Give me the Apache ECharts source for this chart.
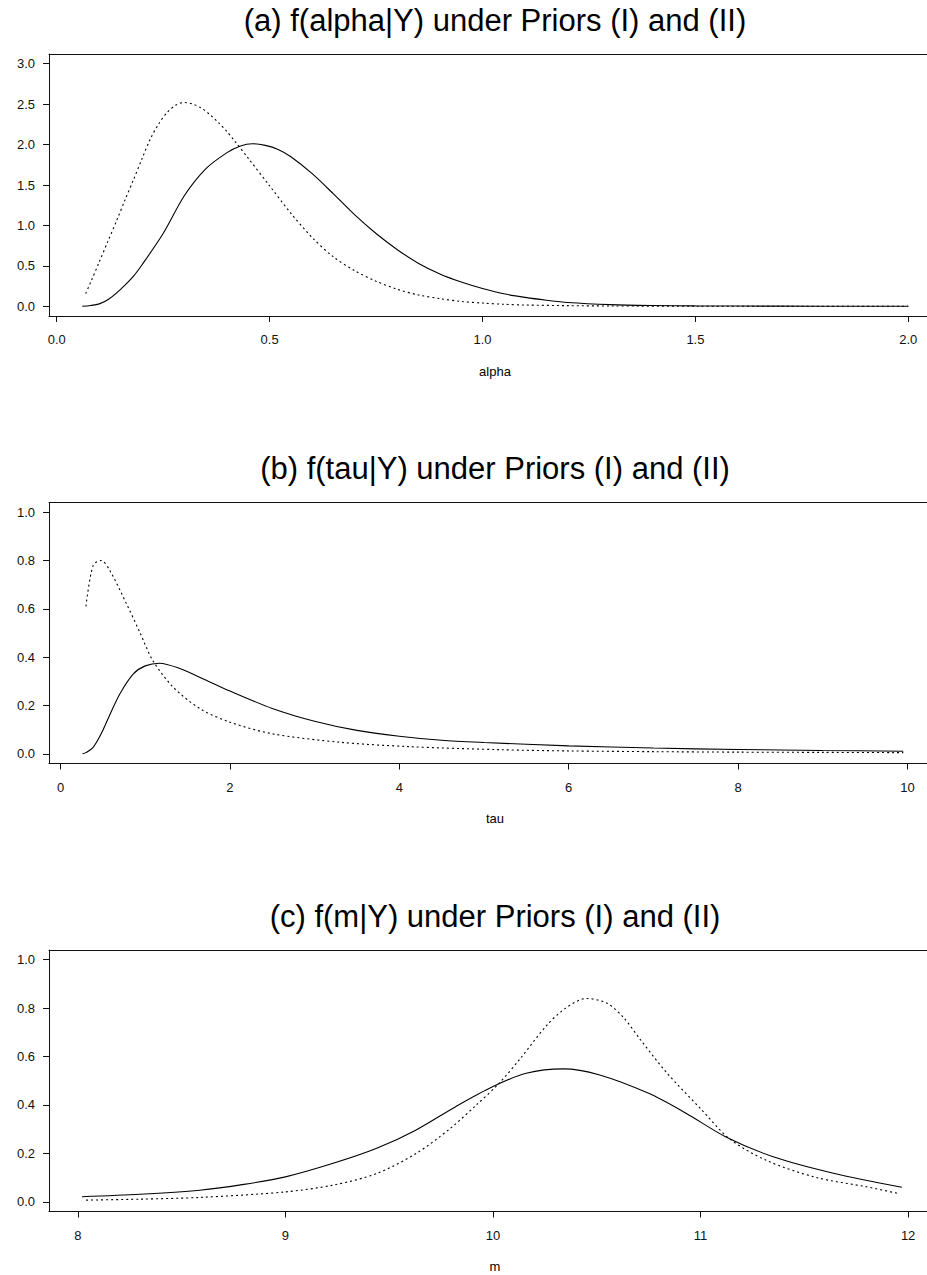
<!DOCTYPE html>
<html>
<head>
<meta charset="utf-8">
<script src="https://cdn.jsdelivr.net/npm/echarts@6/dist/echarts.min.js"></script>
<style>
html,body{margin:0;padding:0;background:#fff;}
#chart{width:927px;height:1275px;}
</style>
</head>
<body>
<div id="chart"></div>
<script>
// ---- Data ----
const titles = ["(a) f(alpha|Y) under Priors (I) and (II)", "(b) f(tau|Y) under Priors (I) and (II)", "(c) f(m|Y) under Priors (I) and (II)"];
const xNames = ["alpha", "tau", "m"];

const alphaTicks = [0.0, 0.5, 1.0, 1.5, 2.0];
const alphaYTicks = [0.0, 0.5, 1.0, 1.5, 2.0, 2.5, 3.0];
const alphaX1 = [0.06,0.08,0.10,0.12,0.15,0.18,0.20,0.25,0.30,0.35,0.40,0.43,0.46,0.49,0.52,0.55,0.60,0.65,0.70,0.75,0.80,0.85,0.90,0.95,1.00,1.05,1.10,1.15,1.20,1.30,1.40,1.50,1.60,1.80,2.00];
const alphaSolid = [0,0.01,0.03,0.08,0.21,0.37,0.51,0.90,1.37,1.70,1.90,1.98,2.01,1.99,1.94,1.85,1.64,1.39,1.13,0.90,0.70,0.53,0.40,0.30,0.22,0.155,0.11,0.075,0.047,0.021,0.01,0.005,0.003,0.001,0];
const alphaX2 = [0.068,0.08,0.10,0.12,0.14,0.16,0.18,0.20,0.22,0.24,0.26,0.28,0.30,0.32,0.34,0.36,0.38,0.40,0.42,0.45,0.50,0.55,0.60,0.65,0.70,0.75,0.80,0.85,0.90,0.95,1.00,1.05,1.10,1.20,1.30,1.50,1.70,2.00];
const alphaDotted = [0.157,0.30,0.55,0.80,1.05,1.31,1.56,1.82,2.07,2.26,2.40,2.49,2.52,2.50,2.45,2.37,2.27,2.16,2.03,1.83,1.49,1.15,0.85,0.61,0.44,0.31,0.21,0.14,0.095,0.06,0.04,0.025,0.016,0.008,0.004,0.001,0.0005,0];

const tauTicks = [0, 2, 4, 6, 8, 10];
const unitYTicks = [0.0, 0.2, 0.4, 0.6, 0.8, 1.0];
const tauX1 = [0.26,0.30,0.385,0.48,0.58,0.70,0.86,1.0,1.17,1.4,1.7,2.0,2.5,3.0,3.5,4.0,4.5,5.0,6.0,7.0,8.0,9.0,9.95];
const tauSolid = [0,0.005,0.027,0.083,0.16,0.248,0.331,0.364,0.375,0.354,0.308,0.26,0.188,0.135,0.097,0.073,0.056,0.047,0.033,0.024,0.018,0.014,0.011];
const tauX2 = [0.30,0.385,0.48,0.58,0.78,0.94,1.09,1.33,1.65,2.0,2.5,3.3,4.1,5.2,6.0,7.0,8.0,9.0,9.95];
const tauDotted = [0.61,0.78,0.80,0.76,0.62,0.50,0.386,0.276,0.186,0.131,0.083,0.048,0.030,0.017,0.012,0.009,0.007,0.006,0.005];

const mTicks = [8, 9, 10, 11, 12];
const mX1 = [8.02,8.3,8.587,8.8,9.0,9.23,9.44,9.63,9.82,10.0,10.16,10.34,10.51,10.75,10.93,11.12,11.35,11.64,11.97];
const mSolid = [0.021,0.031,0.048,0.072,0.103,0.159,0.221,0.297,0.393,0.476,0.531,0.549,0.525,0.448,0.366,0.269,0.186,0.118,0.060];
const mX2 = [8.04,8.3,8.587,9.0,9.23,9.44,9.63,9.79,9.92,10.03,10.13,10.26,10.35,10.45,10.55,10.63,10.71,10.84,11.0,11.14,11.32,11.56,11.80,11.95];
const mDotted = [0.007,0.011,0.018,0.041,0.069,0.117,0.20,0.30,0.40,0.49,0.59,0.73,0.80,0.84,0.82,0.76,0.67,0.53,0.385,0.26,0.17,0.10,0.062,0.035];

// ---- Build options ----
function pairs(xs, ys){ return xs.map((x,i)=>[x, ys[i]]); }
const FONT = '"Liberation Sans", Arial, Helvetica, sans-serif';
const INK = '#111';
// plot boxes run from x=49 past the right edge of the page (clipped at 927)
const panels = [
  {top:54, height:262, xmin:-0.0181, xmax:2.0439, ymin:-0.12, ymax:3.12, xt:alphaTicks, yt:alphaYTicks, xf:v=>v.toFixed(1), yf:v=>v.toFixed(1),
   s1:pairs(alphaX1, alphaSolid), s2:pairs(alphaX2, alphaDotted)},
  {top:502.5, height:261, xmin:-0.136, xmax:10.23, ymin:-0.04, ymax:1.04, xt:tauTicks, yt:unitYTicks, xf:v=>String(v), yf:v=>v.toFixed(1),
   s1:pairs(tauX1, tauSolid), s2:pairs(tauX2, tauDotted)},
  {top:950, height:261.5, xmin:7.861, xmax:12.091, ymin:-0.04, ymax:1.04, xt:mTicks, yt:unitYTicks, xf:v=>String(v), yf:v=>v.toFixed(1),
   s1:pairs(mX1, mSolid), s2:pairs(mX2, mDotted)}
];

const grid = [], xAxis = [], yAxis = [], series = [], graphic = [];
panels.forEach((p, i) => {
  grid.push({left:49, right:0, top:p.top, height:p.height, show:false, containLabel:false});
  xAxis.push({type:'value', gridIndex:i, min:p.xmin, max:p.xmax, position:'bottom',
    axisLine:{show:true, onZero:false, lineStyle:{color:INK, width:1}}, splitLine:{show:false},
    axisTick:{show:true, inside:false, length:6, customValues:p.xt, lineStyle:{color:INK, width:1}},
    axisLabel:{show:true, customValues:p.xt, formatter:p.xf, margin:17, fontFamily:FONT, fontSize:13, color:INK}});
  yAxis.push({type:'value', gridIndex:i, min:p.ymin, max:p.ymax, position:'left',
    axisLine:{show:true, onZero:false, lineStyle:{color:INK, width:1}}, splitLine:{show:false},
    axisTick:{show:true, inside:false, length:6, customValues:p.yt, lineStyle:{color:INK, width:1}},
    axisLabel:{show:true, customValues:p.yt, formatter:p.yf, margin:14, fontFamily:FONT, fontSize:13, color:INK}});
  series.push({type:'line', xAxisIndex:i, yAxisIndex:i, data:p.s1, showSymbol:false, smooth:0.3, silent:true,
    lineStyle:{color:'#000', width:1.1, type:'solid'}});
  series.push({type:'line', xAxisIndex:i, yAxisIndex:i, data:p.s2, showSymbol:false, smooth:0.3, silent:true,
    lineStyle:{color:'#000', width:1.1, type:[2,3]}});
  graphic.push({type:'text', x:495, y:p.top - 34,
    style:{text:titles[i], fontFamily:FONT, fontSize:31, fill:'#000', textAlign:'center', textVerticalAlign:'middle'}});
  graphic.push({type:'text', x:495, y:p.top + p.height + 55,
    style:{text:xNames[i], fontFamily:FONT, fontSize:13, fill:'#000', textAlign:'center', textVerticalAlign:'middle'}});
});
// top edge of each plot box
panels.forEach((p, i) => {
  xAxis.push({type:'value', gridIndex:i, min:p.xmin, max:p.xmax, position:'top',
    axisLine:{show:true, onZero:false, lineStyle:{color:INK, width:1}},
    axisTick:{show:false}, axisLabel:{show:false}, splitLine:{show:false}});
});

const chart = echarts.init(document.getElementById('chart'), null, {renderer:'svg'});
chart.setOption({animation:false, backgroundColor:'#fff', grid, xAxis, yAxis, series, graphic});
</script>
</body>
</html>
